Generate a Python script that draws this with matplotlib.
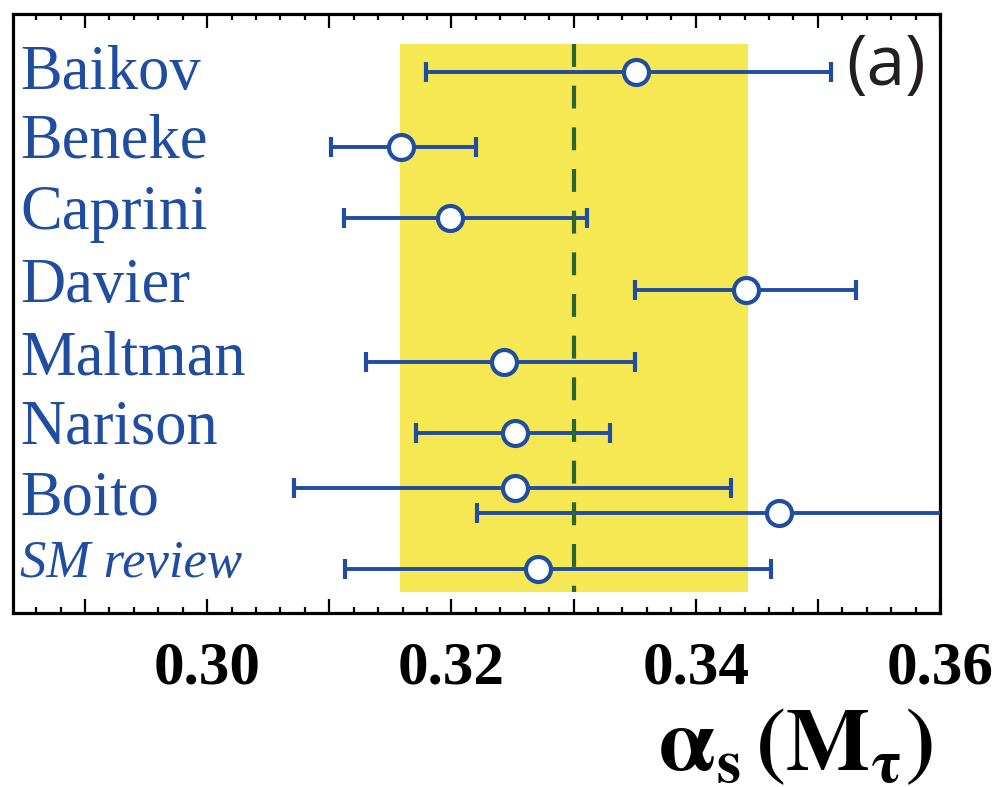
import numpy as np
import matplotlib
matplotlib.use("Agg")
import matplotlib.pyplot as plt
from matplotlib.ticker import FixedLocator, MultipleLocator, FuncFormatter

# ----------------------------------------------------------------------
# DATA: alpha_s(M_tau) determinations (central value, lower, upper)
# ----------------------------------------------------------------------
labels = ["Baikov", "Beneke", "Caprini", "Davier", "Maltman", "Narison", "Boito", "SM review"]
label_y = [1.23, 2.18, 3.17, 4.18, 5.18, 6.14, 7.13, 7.99]

row_y = [1.0, 2.03, 3.02, 4.02, 5.02, 6.0, 6.76, 7.11, 7.88]
central = [0.3351, 0.3159, 0.3199, 0.3441, 0.3243, 0.3252, 0.3252, 0.3468, 0.3271]
lower = [0.3179, 0.3101, 0.3112, 0.3350, 0.3130, 0.3171, 0.3071, 0.3221, 0.3113]
upper = [0.3511, 0.3220, 0.3311, 0.3531, 0.3350, 0.3330, 0.3429, 0.3720, 0.3462]

band_lo, band_hi = 0.3158, 0.3443
band_top, band_bot = 0.61, 8.20
world_avg = 0.330

major_ticks = [0.29, 0.30, 0.31, 0.32, 0.33, 0.34, 0.35, 0.36]

blue = "#214DA0"
yellow = "#F6E853"
green = "#2B6632"

fig = plt.figure(figsize=(10.01, 7.87), dpi=100)
ax = fig.add_axes([0.013, 0.221, 0.926, 0.761])

ax.set_xlim(0.2841, 0.36)
ax.set_ylim(8.49, 0.197)

# yellow average band and dashed world average
ax.fill_between([band_lo, band_hi], band_top, band_bot, color=yellow, lw=0, zorder=1)
ax.plot([world_avg, world_avg], [band_top, band_bot], color=green, lw=3,
        dashes=(5.5, 4.5), zorder=4)

c = np.array(central)
xerr = [c - np.array(lower), np.array(upper) - c]
ax.errorbar(c, row_y, xerr=xerr, fmt="o", color=blue, ecolor=blue, elinewidth=2.8,
            capsize=7.5, capthick=2.6, ms=18, mfc="white", mec=blue, mew=3,
            zorder=3)

for name, yy in zip(labels, label_y):
    style = "italic" if name == "SM review" else "normal"
    size = 38 if name == "SM review" else 45
    ax.text(0.2847, yy, name, color=blue, fontsize=size, fontstyle=style,
            family="Liberation Serif", va="baseline", ha="left", zorder=5)

ax.text(0.3556, 1.18, "(a)", fontsize=50, family="Open Sans", color="#231F20",
        ha="center", va="baseline", zorder=5)

# axes styling
for sp in ax.spines.values():
    sp.set_linewidth(2.3)
ax.set_yticks([])
ax.xaxis.set_major_locator(FixedLocator(major_ticks))
ax.xaxis.set_minor_locator(MultipleLocator(0.002))
ax.xaxis.set_major_formatter(FuncFormatter(
    lambda v, p: f"{v:.2f}" if round(v * 100) % 2 == 0 else ""))
ax.tick_params(axis="x", which="both", direction="in", top=True, bottom=True)
ax.tick_params(axis="x", which="major", length=10, width=1.6, pad=20)
ax.tick_params(axis="x", which="minor", length=4.5, width=1.6)
for lab in ax.get_xticklabels():
    lab.set_family("Liberation Serif")
    lab.set_fontweight("bold")
    lab.set_fontsize(44)

plt.rcParams["mathtext.fontset"] = "stix"
fig.text(0.795, 0.022, r"$\mathbf{\alpha_s\,(M_\tau)}$", fontsize=64,
         ha="center", va="baseline")

fig.savefig("out.png", dpi=100)
plt.close(fig)
